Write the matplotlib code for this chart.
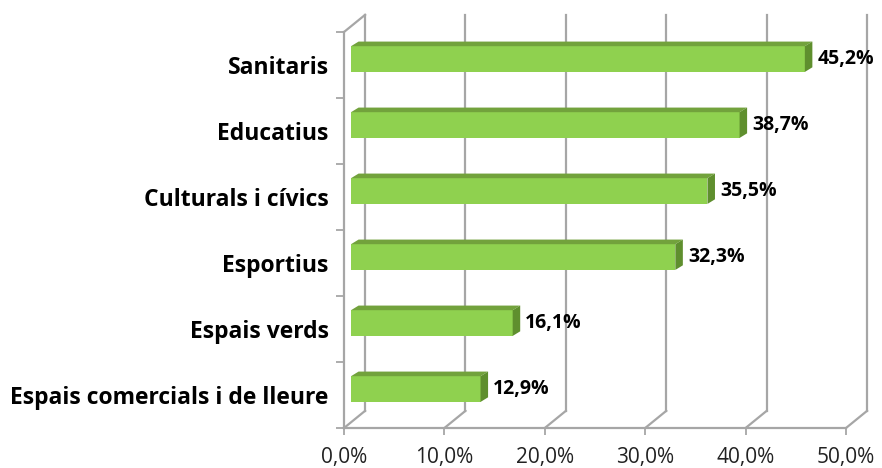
import matplotlib
matplotlib.use("Agg")
import matplotlib.pyplot as plt
from matplotlib.patches import Polygon

# dades
categories = ["Espais comercials i de lleure", "Espais verds", "Esportius",
              "Culturals i cívics", "Educatius", "Sanitaris"]
values = [12.9, 16.1, 32.3, 35.5, 38.7, 45.2]
xticks = [0, 10, 20, 30, 40, 50]

plt.rcParams['font.family'] = ['Open Sans', 'DejaVu Sans']

grid_col = "#a6a6a6"
front_col = "#8fd14f"
top_col = "#72a23c"
side_col = "#5f8f2e"

# efecte 3D (unitats de dades)
wall_dx, wall_dy = 2.1, 0.26   # desplaçament de la paret del fons
bar_ox, bar_oy = 0.7, 0.09     # posició de la cara frontal de la barra
bar_dx, bar_dy = 0.75, 0.07    # profunditat de la barra
bar_h = 0.39

fig = plt.figure(figsize=(8.82, 4.68), dpi=100)
ax = fig.add_axes([344 / 882, 1 - 428 / 468, 502 / 882, 396 / 468])
ax.set_xlim(0, 50)
ax.set_ylim(-0.5, len(categories) - 0.5)
ylo, yhi = -0.5, len(categories) - 0.5

# paret del fons i terra
for x in xticks:
    ax.plot([x + wall_dx, x + wall_dx], [ylo + wall_dy, yhi + wall_dy], color=grid_col, lw=1.6, clip_on=False, zorder=1)
    ax.plot([x, x + wall_dx], [ylo, ylo + wall_dy], color=grid_col, lw=1.6, clip_on=False, zorder=1)
ax.plot([0, wall_dx], [yhi, yhi + wall_dy], color=grid_col, lw=1.6, clip_on=False, zorder=1)

# barres
ypos = list(range(len(categories)))
ax.barh([y + bar_oy for y in ypos], values, left=bar_ox, height=bar_h, color=front_col, zorder=3)
for y, v in zip(ypos, values):
    yb = y + bar_oy - bar_h / 2
    yt = y + bar_oy + bar_h / 2
    x0, x1 = bar_ox, bar_ox + v
    top = Polygon([(x0, yt), (x1, yt), (x1 + bar_dx, yt + bar_dy), (x0 + bar_dx, yt + bar_dy)],
                  closed=True, facecolor=top_col, edgecolor="none", zorder=3, clip_on=False)
    side = Polygon([(x1, yb), (x1, yt), (x1 + bar_dx, yt + bar_dy), (x1 + bar_dx, yb + bar_dy)],
                   closed=True, facecolor=side_col, edgecolor="none", zorder=3, clip_on=False)
    ax.add_patch(top)
    ax.add_patch(side)
    ax.text(x1 + bar_dx + 0.5, y + bar_oy, ("%.1f" % v).replace(".", ",") + "%",
            ha="left", va="center", fontsize=14, fontweight="bold", color="black", zorder=4)

# eixos
for s in ["top", "right"]:
    ax.spines[s].set_visible(False)
for s in ["left", "bottom"]:
    ax.spines[s].set_color(grid_col)
    ax.spines[s].set_linewidth(1.6)

ax.set_xticks(xticks)
ax.set_xticklabels([("%.1f" % t).replace(".", ",") + "%" for t in xticks], fontsize=15, color="#222222")
ax.tick_params(axis="x", length=5, width=1.3, color=grid_col, pad=9)

ax.set_yticks(ypos)
ax.set_yticklabels(categories, fontsize=16.5, fontweight="bold", color="black")
ax.tick_params(axis="y", length=0, pad=11)
ax.set_yticks([y - 0.5 for y in range(len(categories) + 1)], minor=True)
ax.tick_params(axis="y", which="minor", length=6, width=1.3, color=grid_col)

fig.savefig("out.png", dpi=100)
